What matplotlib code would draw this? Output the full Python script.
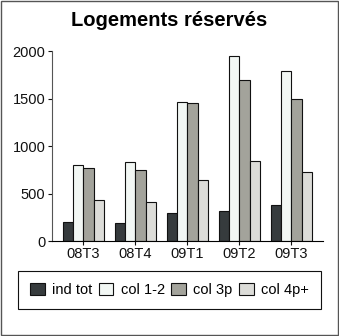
import matplotlib.pyplot as plt
import numpy as np
from matplotlib.patches import Rectangle

plt.rcParams['font.family'] = ['Liberation Sans', 'DejaVu Sans']

# Données trimestrielles
trimestres = ["08T3", "08T4", "09T1", "09T2", "09T3"]
ind_tot = [200, 190, 300, 320, 375]
col_1_2 = [800, 830, 1460, 1950, 1785]
col_3p = [770, 750, 1450, 1690, 1490]
col_4p = [430, 410, 645, 845, 730]

series = [
    ("ind tot", ind_tot, "#363b3d"),
    ("col 1-2", col_1_2, "#f2f7f4"),
    ("col 3p", col_3p, "#a3a39b"),
    ("col 4p+", col_4p, "#dcdcd8"),
]

fig = plt.figure(figsize=(3.39, 3.36), dpi=100)
ax = fig.add_axes([0.1525, 0.2827, 0.8012, 0.5655])

x = np.arange(len(trimestres))
w = 0.2
for i, (nom, vals, coul) in enumerate(series):
    ax.bar(x + (i - 1.5) * w, vals, w, color=coul, edgecolor="#111111",
           linewidth=0.8, label=nom)

ax.set_xlim(-0.608, 4.615)
ax.set_ylim(0, 2000)
ax.set_yticks([0, 500, 1000, 1500, 2000])
ax.set_xticks(x)
ax.set_xticklabels(trimestres)
ax.spines['top'].set_visible(False)
ax.spines['right'].set_visible(False)
ax.spines['left'].set_color("#555555")
ax.tick_params(axis='both', labelsize=10.5, length=3, width=0.8, pad=1.5,
               colors="#111111")

fig.text(0.5, 0.9375, "Logements réservés", ha="center", va="center",
         fontsize=14.5, fontweight="bold")

leg = fig.legend(loc="center", bbox_to_anchor=(0.5, 0.137), ncol=4,
                 fontsize=10.5, frameon=True, fancybox=False,
                 edgecolor="#111111", framealpha=1, handlelength=1.0,
                 handleheight=0.9, handletextpad=0.5, columnspacing=0.45,
                 borderpad=0.8, borderaxespad=0)
leg.get_frame().set_linewidth(0.8)

# Cadre autour de la figure
fig.patches.append(Rectangle((0.002, 0.002), 0.995, 0.995, transform=fig.transFigure,
                             fill=False, edgecolor="#555555", linewidth=1))

fig.savefig("out.png", dpi=100)
